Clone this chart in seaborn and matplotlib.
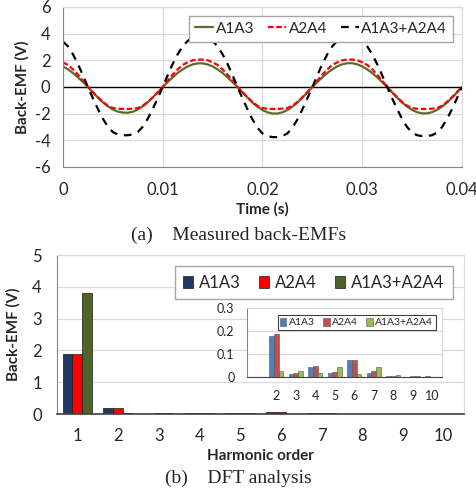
import numpy as np
import pandas as pd
import matplotlib
matplotlib.use("Agg")
import matplotlib.pyplot as plt
import seaborn as sns
from matplotlib.lines import Line2D
from matplotlib.patches import Patch

# ---------------- data ----------------
time_s = np.linspace(0, 0.04, 81)
a1a3 = [1.54, 1.32, 1.05, 0.72, 0.37, 0.0, -0.41, -0.79, -1.15, -1.45, -1.69, -1.85, -1.92, -1.93, -1.86, -1.69,
        -1.45, -1.15, -0.79, -0.41, 0.0, 0.37, 0.72, 1.05, 1.32, 1.54, 1.69, 1.77, 1.77, 1.69,
        1.54, 1.32, 1.05, 0.72, 0.37, 0.0, -0.41, -0.80, -1.18, -1.48, -1.73, -1.90, -1.99, -1.99, -1.90, -1.73,
        -1.48, -1.17, -0.80, -0.41, 0.0, 0.37, 0.72, 1.05, 1.32, 1.55, 1.70, 1.78, 1.78, 1.70,
        1.54, 1.32, 1.05, 0.72, 0.37, 0.0, -0.41, -0.80, -1.17, -1.47, -1.72, -1.89, -1.98, -1.98, -1.89, -1.72,
        -1.47, -1.17, -0.80, -0.41, 0.0]
a2a4 = [1.85, 1.65, 1.32, 0.92, 0.47, 0.0, -0.39, -0.77, -1.12, -1.41, -1.58, -1.63, -1.65, -1.65, -1.63, -1.58,
        -1.41, -1.12, -0.77, -0.39, 0.0, 0.47, 0.92, 1.32, 1.65, 1.85, 2.00, 2.05, 2.05, 2.00,
        1.85, 1.65, 1.32, 0.92, 0.47, 0.0, -0.39, -0.77, -1.12, -1.41, -1.58, -1.63, -1.65, -1.65, -1.63, -1.58,
        -1.41, -1.12, -0.77, -0.39, 0.0, 0.47, 0.92, 1.32, 1.65, 1.85, 2.00, 2.05, 2.05, 2.00,
        1.85, 1.65, 1.32, 0.92, 0.47, 0.0, -0.39, -0.77, -1.12, -1.41, -1.58, -1.63, -1.65, -1.65, -1.63, -1.58,
        -1.41, -1.12, -0.77, -0.39, 0.0]
a_sum = [3.40, 3.05, 2.45, 1.72, 0.88, 0.0, -0.85, -1.65, -2.38, -2.98, -3.38, -3.56, -3.62, -3.62, -3.56, -3.38,
         -2.98, -2.38, -1.65, -0.85, 0.0, 0.88, 1.72, 2.45, 3.05, 3.45, 3.72, 3.80, 3.80, 3.72,
         3.45, 3.05, 2.45, 1.72, 0.88, 0.0, -0.86, -1.68, -2.44, -3.06, -3.48, -3.68, -3.76, -3.76, -3.68, -3.48,
         -3.06, -2.44, -1.68, -0.86, 0.0, 0.88, 1.72, 2.45, 3.05, 3.45, 3.72, 3.81, 3.81, 3.72,
         3.45, 3.05, 2.45, 1.72, 0.88, 0.0, -0.85, -1.66, -2.40, -3.01, -3.42, -3.62, -3.68, -3.68, -3.62, -3.42,
         -3.01, -2.40, -1.66, -0.85, 0.0]

harmonics = [1, 2, 3, 4, 5, 6, 7, 8, 9, 10]
dft_a1a3 = [1.90, 0.180, 0.012, 0.045, 0.017, 0.075, 0.017, 0.005, 0.002, 0.003]
dft_a2a4 = [1.90, 0.185, 0.017, 0.047, 0.022, 0.075, 0.025, 0.003, 0.003, 0.002]
dft_sum = [3.82, 0.025, 0.028, 0.017, 0.045, 0.012, 0.043, 0.007, 0.003, 0.002]
series_names = ["A1A3", "A2A4", "A1A3+A2A4"]

# ---------------- style ----------------
sns.set_style("white")
plt.rcParams["font.family"] = ["Lato", "DejaVu Sans"]
plt.rcParams["axes.unicode_minus"] = False

grid_c = "#D9D9D9"
axis_c = "#868686"

fig = plt.figure(figsize=(4.77, 4.94), dpi=100)

# ---------------- (a) time waveforms ----------------
ax1 = fig.add_axes([0.132, 0.662, 0.8365, 0.3239])
df_t = pd.DataFrame({"t": np.concatenate([time_s] * 3),
                     "v": np.concatenate([a1a3, a2a4, a_sum]),
                     "s": np.repeat(series_names, len(time_s))})
line_colors = {"A1A3": "#5B6B2E", "A2A4": "#FF0000", "A1A3+A2A4": "#000000"}
sns.lineplot(data=df_t, x="t", y="v", hue="s", palette=line_colors, ax=ax1,
             legend=False, linewidth=1.6, sort=False)
ax1.lines[1].set_dashes([2.5, 1.2])
ax1.lines[2].set_dashes([3.5, 3])
ax1.axhline(0, color="black", lw=1.0, zorder=1)
ax1.set_xlim(0, 0.04)
ax1.set_ylim(-6, 6)
ax1.set_xticks([0, 0.01, 0.02, 0.03, 0.04])
ax1.set_xticklabels(["0", "0.01", "0.02", "0.03", "0.04"])
ax1.set_yticks([-6, -4, -2, 0, 2, 4, 6])
ax1.grid(True, color=grid_c, lw=0.9)
ax1.set_axisbelow(True)
ax1.tick_params(labelsize=12, length=0)
ax1.tick_params(axis="x", pad=11)
ax1.tick_params(axis="y", pad=9)
ax1.set_xlabel("Time (s)", fontsize=11, fontweight="bold", labelpad=3)
ax1.set_ylabel("Back-EMF (V)", fontsize=11, fontweight="bold", labelpad=4)
for side in ["top", "right"]:
    ax1.spines[side].set_color(grid_c)
for side in ["left", "bottom"]:
    ax1.spines[side].set_color(axis_c)
handles1 = [Line2D([], [], color="#5B6B2E", lw=1.6),
            Line2D([], [], color="#FF0000", lw=1.6, dashes=[2.5, 1.2]),
            Line2D([], [], color="black", lw=1.6, dashes=[3.5, 3])]
leg1 = fig.legend(handles1, series_names, loc="upper right", bbox_to_anchor=(0.9665, 0.984),
                  ncol=3, fontsize=11, frameon=True, fancybox=False, edgecolor="#A6A6A6",
                  handlelength=1.2, handletextpad=0.15, columnspacing=0.9,
                  borderpad=0.4, framealpha=1)
leg1.get_frame().set_linewidth(1.0)

fig.text(0.5, 0.524, "(a)    Measured back-EMFs", ha="center", va="center",
         fontsize=14, family="Liberation Serif")

# ---------------- (b) DFT bars ----------------
ax2 = fig.add_axes([0.1195, 0.1619, 0.853, 0.3219])
df_b = pd.DataFrame({"h": harmonics * 3,
                     "v": dft_a1a3 + dft_a2a4 + dft_sum,
                     "s": np.repeat(series_names, len(harmonics))})
bar_colors = {"A1A3": "#1F3864", "A2A4": "#FF0000", "A1A3+A2A4": "#4F6228"}
sns.barplot(data=df_b, x="h", y="v", hue="s", palette=bar_colors, ax=ax2,
            width=0.72, legend=False, saturation=1, edgecolor="#1a1a1a", linewidth=0.5)
ax2.set_ylim(0, 5)
ax2.set_xlim(-0.5, 9.5)
ax2.set_yticks([0, 1, 2, 3, 4, 5])
ax2.yaxis.grid(True, color=grid_c, lw=0.9)
ax2.set_axisbelow(True)
ax2.tick_params(labelsize=12, length=0)
ax2.tick_params(axis="x", pad=10)
ax2.tick_params(axis="y", pad=11)
ax2.set_xlabel("Harmonic order", fontsize=11, fontweight="bold", labelpad=4)
ax2.set_ylabel("Back-EMF (V)", fontsize=11, fontweight="bold", labelpad=8)
for side in ["top", "right"]:
    ax2.spines[side].set_color(grid_c)
ax2.spines["left"].set_color(axis_c)
ax2.spines["bottom"].set_color("#404040")
ax2.spines["bottom"].set_linewidth(1.2)
handles2 = [Patch(facecolor=bar_colors[n], edgecolor="#1a1a1a", lw=0.5) for n in series_names]
leg2 = fig.legend(handles2, series_names, loc="upper right", bbox_to_anchor=(0.9665, 0.4777),
                  ncol=3, fontsize=12, frameon=True, fancybox=False, edgecolor="#A6A6A6",
                  handlelength=0.6, handleheight=0.7, handletextpad=0.35, columnspacing=1.1,
                  borderpad=0.5, framealpha=1)
leg2.get_frame().set_linewidth(1.0)

# ---------------- inset ----------------
ax3 = fig.add_axes([0.5178, 0.2368, 0.4088, 0.1397])
df_i = df_b[df_b["h"] > 1]
inset_colors = {"A1A3": "#4F81BD", "A2A4": "#C0504D", "A1A3+A2A4": "#9BBB59"}
sns.barplot(data=df_i, x="h", y="v", hue="s", palette=inset_colors, ax=ax3,
            width=0.72, legend=False, saturation=1, edgecolor="#555555", linewidth=0.4)
ax3.set_facecolor("white")
ax3.set_xlim(-1.5, 8.5)
ax3.set_ylim(0, 0.3)
ax3.set_yticks([0, 0.1, 0.2, 0.3])
ax3.set_yticklabels(["0", "0.1", "0.2", "0.3"])
ax3.yaxis.grid(True, color=grid_c, lw=0.8)
ax3.set_axisbelow(True)
ax3.tick_params(labelsize=9, length=0)
ax3.tick_params(axis="x", pad=9)
ax3.tick_params(axis="y", pad=9)
ax3.set_xlabel("")
ax3.set_ylabel("")
for side in ["top", "right"]:
    ax3.spines[side].set_color(grid_c)
ax3.spines["left"].set_color(axis_c)
ax3.spines["bottom"].set_color("#404040")
handles3 = [Patch(facecolor=inset_colors[n], edgecolor="#555555", lw=0.4) for n in series_names]
leg3 = fig.legend(handles3, series_names, loc="upper right", bbox_to_anchor=(0.9245, 0.3725),
                  ncol=3, fontsize=7.5, frameon=True, fancybox=False, edgecolor="#404040",
                  handlelength=0.6, handleheight=0.8, handletextpad=0.25, columnspacing=0.8,
                  borderpad=0.25, framealpha=1)
leg3.get_frame().set_linewidth(0.8)

fig.text(0.5, 0.032, "(b)    DFT analysis", ha="center", va="center",
         fontsize=14, family="Liberation Serif")

fig.savefig("out.png", dpi=100)
